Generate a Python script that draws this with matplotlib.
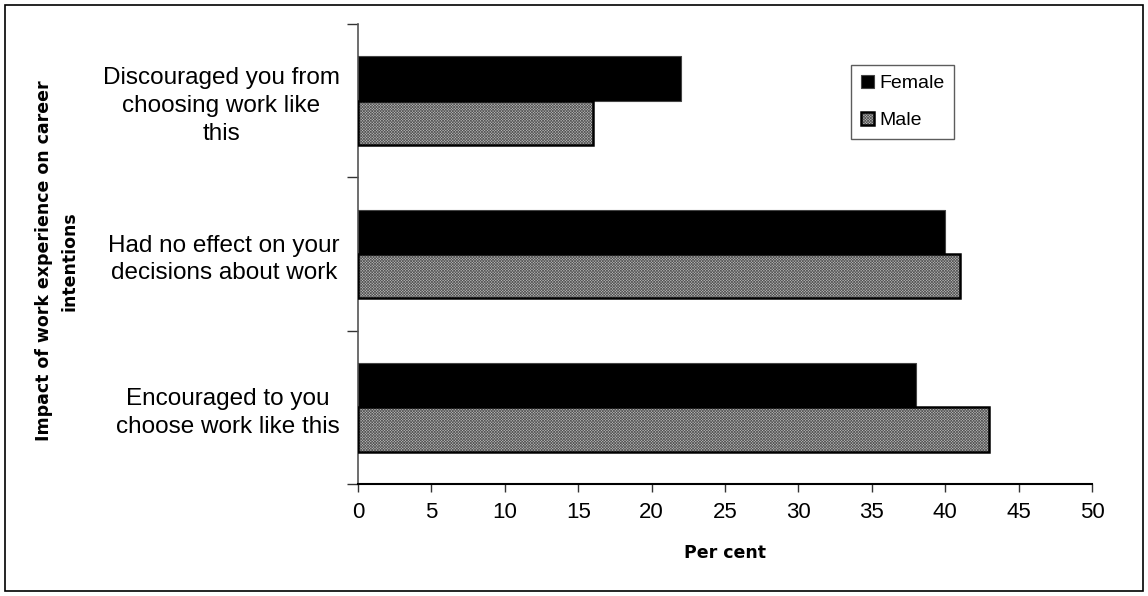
import matplotlib
matplotlib.use("Agg")
import matplotlib as mpl
import matplotlib.pyplot as plt
from matplotlib.patches import Rectangle
import numpy as np

categories = [
    "Discouraged you from\nchoosing work like\nthis",
    "Had no effect on your\ndecisions about work",
    "Encouraged to you\nchoose work like this",
]
female = [22, 40, 38]
male = [16, 41, 43]
series_names = ["Female", "Male"]
x_ticks = [0, 5, 10, 15, 20, 25, 30, 35, 40, 45, 50]
x_label = "Per cent"
y_label = "Impact of work experience on career\nintentions"

W, H = 1148, 596
plt.rcParams["hatch.linewidth"] = 0.5
fig = plt.figure(figsize=(W / 100, H / 100), dpi=100)
fig.patch.set_facecolor("white")

ax = fig.add_axes([358 / W, 1 - 484 / H, (1092 - 358) / W, (484 - 24) / H])

y = np.arange(len(categories))
h = 0.29
ax.barh(y - h / 2, female, height=h, color="black", edgecolor="#444444",
        linewidth=0.8, label=series_names[0], zorder=3)
male_bars = ax.barh(y + h / 2, male, height=h, facecolor="#bcbcbc", edgecolor="black",
                    linewidth=1.8, hatch="x" * 12, label=series_names[1], zorder=3)
for p in male_bars:
    p._hatch_color = mpl.colors.to_rgba("#555555")

ax.set_xlim(0, 50)
ax.set_ylim(2.5, -0.5)
ax.set_xticks(x_ticks)
ax.set_xticklabels([str(v) for v in x_ticks], fontsize=16, family="Liberation Sans")
ax.tick_params(axis="x", direction="out", length=6, width=1, color="#333333", pad=7)

ax.set_yticks(y)
ax.set_yticklabels(categories, fontsize=17.5, family="Liberation Sans",
                   ha="right", multialignment="center", linespacing=1.35)
ax.tick_params(axis="y", which="major", length=0, pad=13)
ax.set_yticks([-0.5, 0.5, 1.5, 2.5], minor=True)
ax.tick_params(axis="y", which="minor", direction="out", length=8, width=1, color="#333333")

for s in ["top", "right"]:
    ax.spines[s].set_visible(False)
ax.spines["left"].set_color("#555555")
ax.spines["left"].set_linewidth(1.2)
ax.spines["bottom"].set_color("black")
ax.spines["bottom"].set_linewidth(1.5)

ax.set_xlabel(x_label, fontsize=12.5, fontweight="bold", family="DejaVu Sans", labelpad=15)
fig.text(57 / W, 0.562, y_label, rotation=90, ha="center", va="center",
         multialignment="center", fontsize=12.5, fontweight="bold",
         family="DejaVu Sans", linespacing=1.5)

leg = ax.legend(loc="upper left", bbox_to_anchor=(0.672, 0.91),
                prop={"family": "Liberation Sans", "size": 14},
                frameon=True, fancybox=False, shadow=False,
                handlelength=0.65, handleheight=0.65, handletextpad=0.3,
                labelspacing=1.0, borderpad=0.5, borderaxespad=0)
leg.get_frame().set_edgecolor("#333333")
leg.get_frame().set_linewidth(1.0)

fig.patches.append(Rectangle((5 / W, 5 / H), (1143 - 5) / W, (591 - 5) / H,
                             transform=fig.transFigure, fill=False,
                             edgecolor="black", linewidth=1.2))

fig.savefig("out.png", dpi=100, facecolor="white")
